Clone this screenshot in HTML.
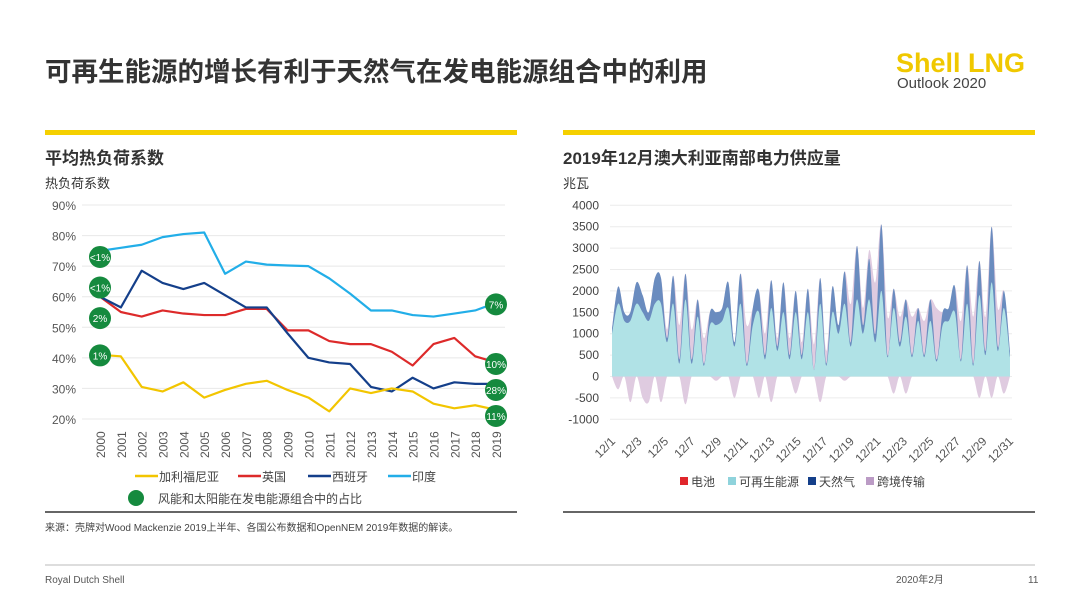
<!DOCTYPE html>
<html><head><meta charset="utf-8">
<style>
body{margin:0;width:1080px;height:608px;background:#fff;overflow:hidden;font-family:"Liberation Sans","Noto Sans CJK SC",sans-serif;color:#404040}
svg text{font-family:"Liberation Sans","Noto Sans CJK SC",sans-serif}
</style></head>
<body>
<svg width="1080" height="608" viewBox="0 0 1080 608">
<text x="45" y="81" font-size="26.5" font-weight="bold" fill="#333">可再生能源的增长有利于天然气在发电能源组合中的利用</text>
<text x="896" y="72" font-size="27" font-weight="bold" fill="#f0c800">Shell LNG</text>
<text x="897" y="88" font-size="15" fill="#444">Outlook 2020</text>
<rect x="45" y="130" width="472" height="5" fill="#f5d000"/>
<rect x="563" y="130" width="472" height="5" fill="#f5d000"/>
<text x="45" y="164" font-size="17" font-weight="bold" fill="#333">平均热负荷系数</text>
<text x="45" y="188" font-size="13" fill="#333">热负荷系数</text>
<text x="563" y="164" font-size="17" font-weight="bold" fill="#333">2019年12月澳大利亚南部电力供应量</text>
<text x="563" y="188" font-size="13" fill="#333">兆瓦</text>
<g id="left"></g>
<g id="right"></g>
<line x1="45" y1="512" x2="517" y2="512" stroke="#666" stroke-width="2"/>
<line x1="563" y1="512" x2="1035" y2="512" stroke="#666" stroke-width="2"/>
<text x="45" y="531" font-size="10" fill="#444">来源：壳牌对Wood Mackenzie 2019上半年、各国公布数据和OpenNEM 2019年数据的解读。</text>
<line x1="45" y1="565" x2="1035" y2="565" stroke="#bbb" stroke-width="1"/>
<text x="45" y="583" font-size="10" fill="#555">Royal Dutch Shell</text>
<text x="896" y="583" font-size="10" fill="#555">2020年2月</text>
<text x="1028" y="583" font-size="10" fill="#555">11</text>
</svg>
<script>
const NS="http://www.w3.org/2000/svg";
const years=[2000,2001,2002,2003,2004,2005,2006,2007,2008,2009,2010,2011,2012,2013,2014,2015,2016,2017,2018,2019];
const california=[41,40.5,30.5,29,32,27,29.5,31.5,32.5,29.5,27,22.5,30,28.5,30,29,25,23.5,24.5,23];
const uk=[60,55,53.5,55.5,54.5,54,54,56,56,49,49,45.5,44.5,44.5,42,37.5,44.5,46.5,40.5,38.5];
const spain=[60,56.5,68.5,64.5,62.5,64.5,60.5,56.5,56.5,48,40,38.5,38,30.5,29,33.5,30,32,31.5,31.5];
const india=[75,76,77,79.5,80.5,81,67.5,71.5,70.5,70.2,70,66,61,55.5,55.5,54,53.5,54.5,55.5,58];
const leftTicks=[20,30,40,50,60,70,80,90];
const bubbleLabels=["<1%","<1%","2%","1%","7%","10%","28%","11%"];
const bubbleValues=[73,63,53,40.8,57.5,38,29.5,21];
const bubbleYears=[2000,2000,2000,2000,2019,2019,2019,2019];

const days=["12/1","12/3","12/5","12/7","12/9","12/11","12/13","12/15","12/17","12/19","12/21","12/23","12/25","12/27","12/29","12/31"];
const rightTicks=[-1000,-500,0,500,1000,1500,2000,2500,3000,3500,4000];
const gasTotal=[1100,2100,1500,1500,2200,1900,1500,2300,2300,900,2350,400,2400,400,1800,300,1500,1500,1600,2200,800,2400,300,1600,2000,500,2250,700,2200,500,2000,500,2050,150,2300,300,2100,1200,2450,800,3050,1200,2750,1000,3550,500,2050,800,1800,500,1600,500,1800,400,1500,1600,2100,400,2600,300,2700,600,3500,700,2000,600];
const renewables=[1000,1700,1300,1300,1700,1500,1300,1700,1700,800,1700,300,1800,300,1400,250,1200,1200,1300,1600,700,1700,250,1200,1500,400,1600,600,1500,400,1500,400,1500,150,1700,250,1500,1000,1700,700,1800,1000,1800,800,2000,450,1600,700,1400,450,1300,450,1300,350,1200,1300,1500,350,1700,250,1900,500,2200,600,1600,450];
const imports=[0,-300,0,-600,0,-500,-600,0,-600,200,0,800,-650,700,0,600,0,-100,0,0,-500,0,900,0,-500,500,-600,200,0,400,-400,300,0,600,-600,300,0,0,-100,900,0,400,200,1200,0,900,-400,600,-400,900,0,800,0,1200,0,0,0,900,0,1100,-500,800,-500,900,-400,0];

function mk(tag,attrs,parent){const e=document.createElementNS(NS,tag);for(const k in attrs)e.setAttribute(k,attrs[k]);parent.appendChild(e);return e;}

// LEFT
const L=document.getElementById('left');
const lx=y=>100+(y-2000)*(396/19);
const ly=v=>419-(v-20)*(214/70);
leftTicks.forEach(t=>{
  const g=mk('line',{x1:82,x2:505,y1:ly(t),y2:ly(t),stroke:'#e8e8e8'},L);
  
  
  const tx=mk('text',{x:76,y:ly(t)+5,'text-anchor':'end','font-size':12,fill:'#555'},L);
  tx.textContent=t+'%';
  
  
});
years.forEach(y=>{
  const tx=mk('text',{transform:`translate(${lx(y)+5},458) rotate(-90)`,'font-size':12,fill:'#555'},L);
  tx.textContent=y;
  
  
});
[[india,'#22aee8','india-line'],[uk,'#dd2a2a','uk-line'],[spain,'#143f8a','spain-line'],[california,'#f2c500','california-line']].forEach(([d,c,n])=>{
  const p=mk('polyline',{points:d.map((v,i)=>lx(years[i])+','+ly(v)).join(' '),fill:'none',stroke:c,'stroke-width':2.2,'stroke-linejoin':'round'},L);
  
  
});
bubbleLabels.forEach((lab,i)=>{
  const cx=lx(bubbleYears[i]), cy=ly(bubbleValues[i]);
  const c=mk('circle',{cx:cx,cy:cy,r:11,fill:'#158a3e'},L);
  
  
  const t=mk('text',{x:cx,y:cy+4,'text-anchor':'middle','font-size':10,fill:'#fff'},L);
  t.textContent=lab;
  
  
});
const legL=[['#f2c500','加利福尼亚',135],['#dd2a2a','英国',238],['#143f8a','西班牙',308],['#22aee8','印度',388]];
legL.forEach(([c,t,x])=>{
  const g=mk('g',{},L);
  
  
  mk('line',{x1:x,x2:x+23,y1:476,y2:476,stroke:c,'stroke-width':2.5},g);
  const tx=mk('text',{x:x+24,y:481,'font-size':12,fill:'#444'},g);tx.textContent=t;
});
const bl=mk('g',{},L);


mk('circle',{cx:136,cy:498,r:8,fill:'#158a3e'},bl);
const blt=mk('text',{x:158,y:503,'font-size':12,fill:'#444'},bl);blt.textContent='风能和太阳能在发电能源组合中的占比';

// RIGHT
const R=document.getElementById('right');
const n=gasTotal.length;
const rx=i=>612+i*(398/(n-1));
const ry=v=>376.5-v*(214/5000);
rightTicks.forEach(t=>{
  const g=mk('line',{x1:610,x2:1012,y1:ry(t),y2:ry(t),stroke:'#ececec'},R);
  
  
  const tx=mk('text',{x:599,y:ry(t)+4,'text-anchor':'end','font-size':12,fill:'#444'},R);
  tx.textContent=t;
  
  
});
// smooth path through points (catmull-rom)
function smooth(pts,start){
  let d=start?'M'+pts[0][0]+','+pts[0][1]:'L'+pts[0][0]+','+pts[0][1];
  for(let i=0;i<pts.length-1;i++){
    const p0=pts[Math.max(i-1,0)],p1=pts[i],p2=pts[i+1],p3=pts[Math.min(i+2,pts.length-1)];
    const c1=[p1[0]+(p2[0]-p0[0])/6,p1[1]+(p2[1]-p0[1])/6];
    const c2=[p2[0]-(p3[0]-p1[0])/6,p2[1]-(p3[1]-p1[1])/6];
    d+=`C${c1[0]},${c1[1]} ${c2[0]},${c2[1]} ${p2[0]},${p2[1]}`;
  }
  return d;
}
function area(top,bot,fill,name){
  const tp=top.map((v,i)=>[rx(i),ry(v)]);
  const bp=bot.map((v,i)=>[rx(i),ry(v)]).reverse();
  const p=mk('path',{d:smooth(tp,true)+smooth(bp,false)+'Z',fill:fill},R);
  
  
}
const zeros=gasTotal.map(()=>0);
area(gasTotal.map((v,i)=>v+Math.max(imports[i],0)),zeros,'#dfcbe0','imports-positive-area');
area(zeros,imports.map(v=>Math.min(v,0)),'#dfcbe0','imports-negative-area');
area(gasTotal,zeros,'#6a8cbf','gas-area');
area(renewables,zeros,'#b0e2e6','renewables-area');
days.forEach((d,i)=>{
  const x=612+i*2*(398/30);
  const tx=mk('text',{transform:`translate(${x+4},442) rotate(-45)`,'text-anchor':'end','font-size':12,fill:'#555'},R);
  tx.textContent=d;
  
  
});
const legR=[['#e0262b','电池',680],['#8fd3dc','可再生能源',728],['#143f8a','天然气',808],['#bb9bc5','跨境传输',866]];
legR.forEach(([c,t,x])=>{
  const g=mk('g',{},R);
  
  
  mk('rect',{x:x,y:477,width:8,height:8,fill:c},g);
  const tx=mk('text',{x:x+11,y:486,'font-size':12,fill:'#444'},g);tx.textContent=t;
});
</script>
</body></html>
